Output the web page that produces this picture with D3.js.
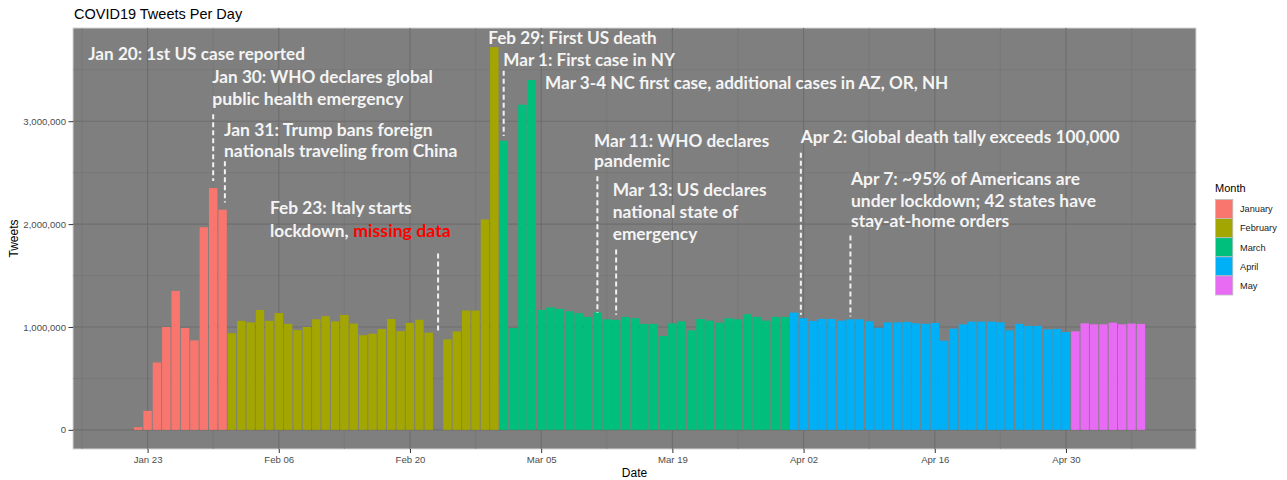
<!DOCTYPE html>
<html>
<head>
<meta charset="utf-8">
<script src="https://cdn.jsdelivr.net/npm/d3@7"></script>
<style>
  html, body { margin: 0; padding: 0; background: #fff; }
  svg { display: block; }
</style>
</head>
<body>
<svg id="chart" width="1287" height="480"></svg>
<script>
(function () {
  // ---------- data ----------
  const months = ['January', 'February', 'March', 'April', 'May'];
  const monthColors = ['#F8766D', '#A3A500', '#00BF7D', '#00B0F6', '#E76BF3'];
  const monthFirstDay = ['2020-01-22', '2020-02-01', '2020-03-01', '2020-04-01', '2020-05-01'];

  const janTweets = [26000, 185000, 655000, 1000000, 1350000, 990000, 870000, 1970000, 2350000, 2140000];
  const febTweets = [940000, 1060000, 1045000, 1165000, 1060000, 1135000, 1030000, 970000, 1000000, 1075000,
    1105000, 1055000, 1117000, 1033000, 920000, 935000, 980000, 1078000, 960000, 1040000,
    1070000, 945000, null, 880000, 957000, 1160000, 1160000, 2045000, 3720000];
  const marTweets = [2810000, 990000, 3160000, 3400000, 1166000, 1190000, 1176000, 1153000, 1134000, 1098000,
    1143000, 1075000, 1070000, 1098000, 1085000, 1030000, 1030000, 912000, 1036000, 1055000,
    967000, 1078000, 1062000, 1042000, 1085000, 1075000, 1124000, 1098000, 1062000, 1098000, 1098000];
  const aprTweets = [1140000, 1085000, 1059000, 1078000, 1078000, 1062000, 1075000, 1075000, 1055000, 993000,
    1045000, 1045000, 1049000, 1036000, 1030000, 1039000, 866000, 984000, 1026000, 1052000,
    1052000, 1052000, 1045000, 967000, 1030000, 1010000, 1010000, 977000, 980000, 951000];
  const mayTweets = [958000, 1036000, 1026000, 1026000, 1042000, 1026000, 1033000, 1030000];
  const tweetsByMonth = [janTweets, febTweets, marTweets, aprTweets, mayTweets];

  const yTicks = [0, 1000000, 2000000, 3000000];
  const yMinor = [500000, 1500000, 2500000, 3500000];
  const xTicks = ['2020-01-23', '2020-02-06', '2020-02-20', '2020-03-05', '2020-03-19', '2020-04-02', '2020-04-16', '2020-04-30'];
  const xTickLabels = ['Jan 23', 'Feb 06', 'Feb 20', 'Mar 05', 'Mar 19', 'Apr 02', 'Apr 16', 'Apr 30'];
  const xMinor = ['2020-01-16', '2020-01-30', '2020-02-13', '2020-02-27', '2020-03-12', '2020-03-26', '2020-04-09', '2020-04-23', '2020-05-07'];

  // event markers: date, dashed line from/to (tweets)
  const eventDates = ['2020-01-30', '2020-01-31T06:00', '2020-02-23', '2020-03-01', '2020-03-11', '2020-03-13', '2020-04-01T17:00', '2020-04-07'];
  const eventFrom = [3067000, 2610000, 1714000, 3490000, 2466000, 1753000, 2694000, 1889000];
  const eventTo = [2418000, 2210000, 957000, 2856000, 1136000, 1120000, 1120000, 1103000];

  // ---------- build rows ----------
  const day = 864e5;
  const parse = s => new Date(s + (s.length > 10 ? ':00Z' : 'T00:00:00Z'));
  const rows = [];
  tweetsByMonth.forEach((vals, m) => {
    const start = parse(monthFirstDay[m]);
    vals.forEach((v, i) => {
      if (v == null) return;
      rows.push({ date: new Date(+start + i * day), value: v, month: m });
    });
  });

  // ---------- layout ----------
  const panel = { left: 73, top: 28, right: 1196, bottom: 449 };
  const svg = d3.select('#chart');

  const x = d3.scaleUtc()
    .domain([new Date(Date.UTC(2020, 0, 15, 1)), new Date(Date.UTC(2020, 4, 13, 21))])
    .range([panel.left, panel.right]);
  const y = d3.scaleLinear()
    .domain([-186000, 3906000])
    .range([panel.bottom, panel.top]);
  const dayPx = x(new Date(day * 2)) - x(new Date(day));
  const bw = dayPx * 0.9;

  // panel background
  svg.append('rect')
    .attr('x', panel.left).attr('y', panel.top)
    .attr('width', panel.right - panel.left).attr('height', panel.bottom - panel.top)
    .attr('fill', '#7f7f7f')
    .attr('stroke', '#d6d6d6').attr('stroke-width', 1);

  // grid
  const grid = svg.append('g');
  grid.selectAll('line.ymin').data(yMinor).enter().append('line')
    .attr('x1', panel.left).attr('x2', panel.right)
    .attr('y1', d => y(d)).attr('y2', d => y(d))
    .attr('stroke', '#747474').attr('stroke-width', 0.6);
  grid.selectAll('line.xmin').data(xMinor).enter().append('line')
    .attr('y1', panel.top).attr('y2', panel.bottom)
    .attr('x1', d => x(parse(d))).attr('x2', d => x(parse(d)))
    .attr('stroke', '#747474').attr('stroke-width', 0.6);
  grid.selectAll('line.ymaj').data(yTicks).enter().append('line')
    .attr('x1', panel.left).attr('x2', panel.right)
    .attr('y1', d => y(d)).attr('y2', d => y(d))
    .attr('stroke', '#6e6e6e').attr('stroke-width', 1.1);
  grid.selectAll('line.xmaj').data(xTicks).enter().append('line')
    .attr('y1', panel.top).attr('y2', panel.bottom)
    .attr('x1', d => x(parse(d))).attr('x2', d => x(parse(d)))
    .attr('stroke', '#6e6e6e').attr('stroke-width', 1.1);

  // bars
  svg.append('g').selectAll('rect').data(rows).enter().append('rect')
    .attr('x', d => x(d.date) - bw / 2)
    .attr('width', bw)
    .attr('y', d => y(d.value))
    .attr('height', d => y(0) - y(d.value))
    .attr('fill', d => monthColors[d.month]);

  // axes
  const axisFont = '"Liberation Sans", Arial, sans-serif';
  const yAxis = svg.append('g').attr('transform', `translate(${panel.left},0)`)
    .call(d3.axisLeft(y).tickValues(yTicks).tickSize(4.5).tickPadding(2.5).tickFormat(d3.format(',')));
  const xAxis = svg.append('g').attr('transform', `translate(0,${panel.bottom})`)
    .call(d3.axisBottom(x).tickValues(xTicks.map(parse)).tickSize(4).tickPadding(3)
      .tickFormat((d, i) => xTickLabels[i]));
  [yAxis, xAxis].forEach(a => {
    a.select('.domain').remove();
    a.selectAll('.tick line').attr('stroke', '#333333').attr('stroke-width', 1);
    a.selectAll('.tick text').attr('fill', '#4d4d4d')
      .style('font-family', axisFont).style('font-size', '9.6px');
  });

  svg.append('text').attr('x', (panel.left + panel.right) / 2).attr('y', 477)
    .attr('text-anchor', 'middle').style('font-family', axisFont).style('font-size', '12px')
    .attr('fill', '#000').text('Date');
  svg.append('text').attr('transform', `translate(18,${(panel.top + panel.bottom) / 2}) rotate(-90)`)
    .attr('text-anchor', 'middle').style('font-family', axisFont).style('font-size', '12px')
    .attr('fill', '#000').text('Tweets');
  svg.append('text').attr('x', 74).attr('y', 19)
    .style('font-family', axisFont).style('font-size', '14.5px')
    .attr('fill', '#000').text('COVID19 Tweets Per Day');

  // legend
  const lg = svg.append('g');
  lg.append('text').attr('x', 1215).attr('y', 192)
    .style('font-family', axisFont).style('font-size', '11px').attr('fill', '#000').text('Month');
  const keyH = 19.1;
  months.forEach((m, i) => {
    lg.append('rect').attr('x', 1215.5).attr('y', 199.5 + i * keyH)
      .attr('width', 17.3).attr('height', keyH)
      .attr('fill', monthColors[i]).attr('stroke', '#bdbdbd').attr('stroke-width', 0.8);
    lg.append('text').attr('x', 1240).attr('y', 199.5 + i * keyH + keyH / 2 + 3.3)
      .style('font-family', axisFont).style('font-size', '9.2px').attr('fill', '#1a1a1a').text(m);
  });

  // event dashed lines
  svg.append('g').selectAll('line').data(eventDates).enter().append('line')
    .attr('x1', d => x(parse(d))).attr('x2', d => x(parse(d)))
    .attr('y1', (d, i) => y(eventFrom[i])).attr('y2', (d, i) => y(eventTo[i]))
    .attr('stroke', '#f2f2f2').attr('stroke-width', 2).attr('stroke-dasharray', '5,3');

  // annotation text: [text, x start, baseline, x end, colour]
  const notes = [
    ['Jan 20: 1st US case reported', 88.3, 60, 305],
    ['Jan 30: WHO declares global', 212.3, 83.3, 432.7],
    ['public health emergency', 212.3, 105.3, 403.3],
    ['Jan 31: Trump bans foreign', 224, 136, 432.7],
    ['nationals traveling from China', 224, 157.3, 457.3],
    ['Feb 23: Italy starts', 270, 214, 411.7],
    ['lockdown,', 270, 236.7, 348.5],
    ['missing data', 353.3, 236.7, 450.7, '#ff0000'],
    ['Feb 29: First US death', 488.3, 44.3, 656.7],
    ['Mar 1: First case in NY', 503.3, 66, 675],
    ['Mar 3-4 NC first case, additional cases in AZ, OR, NH', 545, 89.3, 948.3],
    ['Mar 11: WHO declares', 594, 146.7, 769.3],
    ['pandemic', 594, 167.3, 670],
    ['Mar 13: US declares', 612.7, 196, 766.7],
    ['national state of', 612.7, 218.3, 738.3],
    ['emergency', 612.7, 240, 697.3],
    ['Apr 2: Global death tally exceeds 100,000', 800.7, 143.3, 1119.5],
    ['Apr 7: ~95% of Americans are', 851, 185, 1080],
    ['under lockdown; 42 states have', 851, 206.7, 1096],
    ['stay-at-home orders', 851, 226.7, 1009.3]
  ];
  svg.append('g').selectAll('text').data(notes).enter().append('text')
    .attr('x', d => d[1]).attr('y', d => d[2])
    .attr('textLength', d => d[3] - d[1]).attr('lengthAdjust', 'spacingAndGlyphs')
    .style('font-family', 'Lato, "Open Sans", sans-serif').style('font-weight', 'bold')
    .style('font-size', '16.5px')
    .attr('fill', d => d[4] || '#f4f4f4')
    .text(d => d[0]);
})();
</script>
</body>
</html>
